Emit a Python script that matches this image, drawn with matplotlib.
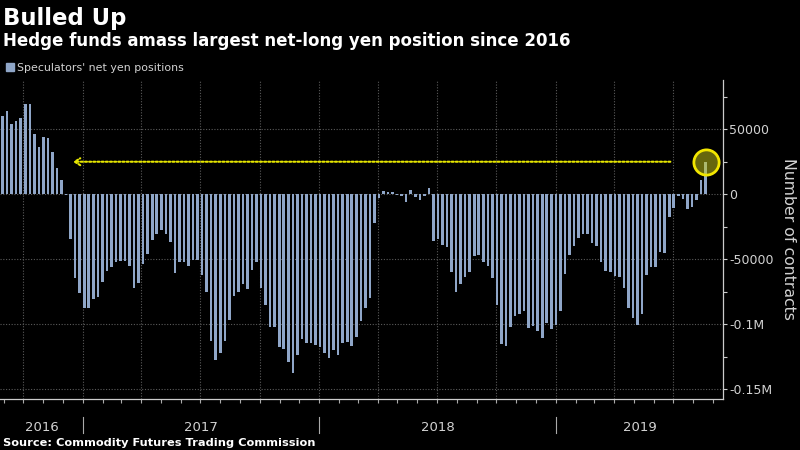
import matplotlib
matplotlib.use("Agg")
import matplotlib.pyplot as plt
import matplotlib.dates as mdates
from matplotlib.patches import Rectangle
import numpy as np
import pandas as pd

# weekly CFTC net yen positions (contracts)
positions = [
    60200, 64000, 54500, 56600, 58700, 69200, 69200, 46100, 36600, 44300,
    43300, 32300, 20200, 10800, -800, -34300, -64000, -76000, -87700, -87200,
    -80800, -78700, -67700, -59000, -55600, -51800, -51000, -51000, -54900, -71800,
    -67900, -53800, -46100, -35100, -30800, -27400, -30800, -36400, -60800, -52300,
    -52300, -55100, -50500, -50500, -62000, -75400, -112800, -127400, -122300, -112800,
    -96700, -77900, -74900, -69200, -73100, -58200, -51800, -71800, -85100, -101800,
    -101800, -117200, -119200, -128700, -137200, -123600, -111500, -114600, -114600, -115900,
    -117200, -122300, -126100, -119700, -123600, -114600, -113300, -116400, -109500, -97500,
    -87700, -79800, -21800, -3000, 2600, 1500, 1500, -300, -1300, -5900,
    3000, -2000, -4600, -1500, 4600, -35900, -34600, -39000, -40300, -59500,
    -74900, -69000, -63300, -59500, -47400, -46700, -52300, -54900, -64100, -85100,
    -115100, -116400, -101800, -93300, -92000, -89700, -103000, -101000, -104900, -110800,
    -98800, -103700, -100500, -89500, -61500, -47000, -39700, -33800, -30500, -30500,
    -37700, -39700, -51800, -59000, -59500, -62800, -63300, -71800, -87700, -94900,
    -100500, -92300, -62000, -55600, -55600, -44600, -45400, -17200, -10300, -1300,
    -3600, -11300, -9500, -4400, 11000, 25100,
]
dates = pd.date_range("2016-08-30", periods=len(positions), freq="W-TUE")

years = ["2016", "2017", "2018", "2019"]
ytick_vals = [-150000, -100000, -50000, 0, 50000]
ytick_labels = ["-0.15M", "-0.1M", "-50000", "0", "50000"]

arrow_tail = pd.Timestamp("2019-07-01")
arrow_head = pd.Timestamp("2016-12-12")

x_start = pd.Timestamp("2016-08-26")
x_end = pd.Timestamp("2019-09-16")

bar_color = "#8fa6c8"
txt = "#d2d2d2"
grid_c = "#5a5a5a"

fig = plt.figure(figsize=(8, 4.5), dpi=100, facecolor="black")
ax = fig.add_axes([0, 51 / 450, 723 / 800, 319 / 450])
ax.set_facecolor("black")

ax.bar(dates, positions, width=4, color=bar_color, zorder=2)

ax.set_xlim(x_start, x_end)
ax.set_ylim(-157500, 88000)

# y axis on the right
ax.yaxis.tick_right()
ax.set_yticks(ytick_vals)
ax.set_yticklabels(ytick_labels)
ax.set_yticks([-125000, -75000, -25000, 25000, 75000], minor=True)
ax.tick_params(axis="y", which="both", direction="out", length=3, width=0.8,
               color="#cccccc", labelcolor=txt, labelsize=9, pad=1.5)
fig.text(788 / 800, 1 - 239 / 450, "Number of contracts", rotation=270, color=txt,
         fontsize=11.3, ha="center", va="center")

# x axis: quarters as grid, months as ticks
ax.xaxis.set_major_locator(mdates.MonthLocator(bymonth=[1, 4, 7, 10]))
ax.xaxis.set_minor_locator(mdates.MonthLocator())
ax.xaxis.set_major_formatter(plt.NullFormatter())
ax.tick_params(axis="x", which="both", direction="out", length=3, width=0.8,
               color="#aaaaaa")

ax.grid(True, which="major", color=grid_c, linestyle=(0, (1, 1.5)), linewidth=0.8, zorder=0)
ax.set_axisbelow(True)

for s in ["top", "left"]:
    ax.spines[s].set_visible(False)
for s in ["bottom", "right"]:
    ax.spines[s].set_color("#cccccc")
    ax.spines[s].set_linewidth(0.9)

# year labels and separators
xt = ax.get_xaxis_transform()
lo, hi = mdates.date2num(x_start), mdates.date2num(x_end)
for y in years:
    a = max(mdates.date2num(pd.Timestamp(f"{y}-01-01")), lo)
    b = min(mdates.date2num(pd.Timestamp(f"{int(y) + 1}-01-01")), hi)
    ax.text((a + b) / 2, -0.099, y, transform=xt, ha="center", va="baseline",
            color=txt, fontsize=9.5)
    if y != "2016":
        ax.plot([mdates.date2num(pd.Timestamp(f"{y}-01-01"))] * 2, [-0.056, -0.107],
                transform=xt, color="#aaaaaa", linewidth=0.8, clip_on=False)

# arrow back to 2016 level and highlight of latest reading
ax.annotate("", xy=(arrow_head, positions[-1]), xytext=(arrow_tail, positions[-1]),
            arrowprops=dict(arrowstyle="->, head_length=0.4, head_width=0.25",
                            color="#e6e600", linestyle=(0, (1, 1)), linewidth=1.5),
            zorder=4)
ax.scatter([dates[-1]], [positions[-1]], s=330, facecolors=[(0.8, 0.8, 0.1, 0.5)],
           edgecolors="#f2e600", linewidths=2, zorder=4)

# titles, legend, source
fig.text(0.004, 1 - 25 / 450, "Bulled Up", color="white", fontsize=16.4,
         fontweight="bold", va="baseline")
fig.text(0.004, 1 - 45.7 / 450, "Hedge funds amass largest net-long yen position since 2016",
         color="white", fontsize=12, fontweight="bold", va="baseline")
fig.add_artist(Rectangle((6 / 800, 1 - 71 / 450), 8 / 800, 8 / 450,
                         transform=fig.transFigure, color=bar_color))
fig.text(17 / 800, 1 - 71 / 450, "Speculators' net yen positions", color=txt,
         fontsize=7.9, va="baseline")
fig.text(0.004, 1 - 445.7 / 450, "Source: Commodity Futures Trading Commission",
         color="white", fontsize=8.2, fontweight="bold", va="baseline")

fig.savefig("out.png", dpi=100, facecolor="black")
